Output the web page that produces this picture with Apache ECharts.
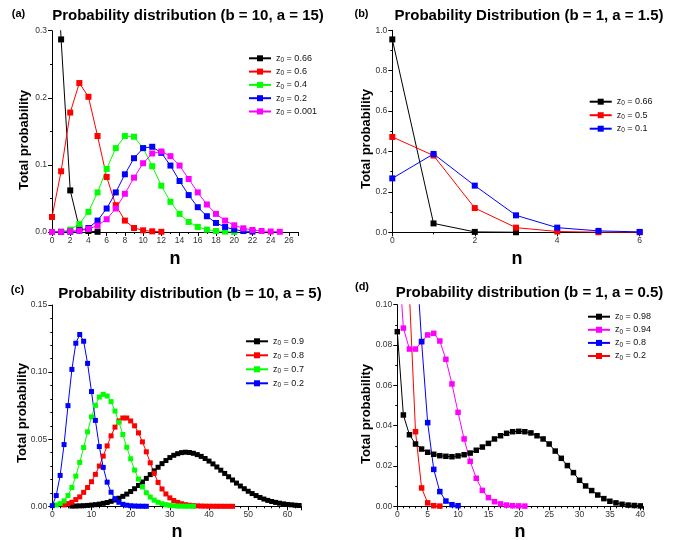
<!DOCTYPE html>
<html>
<head>
<meta charset="utf-8">
<title>Probability distribution</title>
<script src="https://cdn.jsdelivr.net/npm/echarts@6/dist/echarts.min.js"></script>
<style>
  body { margin: 0; background: #fff; }
  #main { width: 684px; height: 540px; }
</style>
</head>
<body>
<div id="main"></div>
<script>
// (a) b = 10, a = 15  -- every series starts at n = 0
var aZ = ['0.66', '0.6', '0.4', '0.2', '0.001'];
var aBlack = [0.55, 0.287, 0.062, 0.006, 0.0015, 0.0003];
var aRed = [0.0224, 0.0905, 0.178, 0.222, 0.2015, 0.143, 0.082, 0.040, 0.017, 0.006, 0.0025, 0.001, 0.0003];
var aGreen = [0, 0.0005, 0.0035, 0.012, 0.030, 0.059, 0.094, 0.125, 0.143, 0.142, 0.125, 0.098, 0.069, 0.045,
  0.027, 0.015, 0.0075, 0.0035, 0.0015, 0.0006, 0.0002];
var aBlue = [0, 0.0001, 0.0005, 0.002, 0.006, 0.017, 0.035, 0.059, 0.086, 0.110, 0.125, 0.127, 0.118, 0.099,
  0.076, 0.055, 0.037, 0.0235, 0.0135, 0.0075, 0.0035, 0.0015, 0.0006];
var aMagenta = [0, 0.0003, 0.0007, 0.002, 0.0045, 0.0095, 0.019, 0.035, 0.057, 0.081, 0.1025, 0.117, 0.12, 0.113,
  0.099, 0.079, 0.059, 0.041, 0.027, 0.017, 0.010, 0.0055, 0.003, 0.0015, 0.0007, 0.0003];

// (b) b = 1, a = 1.5  -- start at n = 0
var bZ = ['0.66', '0.5', '0.1'];
var bBlack = [0.955, 0.044, 0.002, 0.0003];
var bRed = [0.472, 0.38, 0.12, 0.023, 0.004, 0.0005, 0.0001];
var bBlue = [0.267, 0.388, 0.231, 0.084, 0.023, 0.007, 0.002];

// (c) b = 10, a = 5  -- start n given in cStart
var cZ = ['0.9', '0.8', '0.7', '0.2'];
var cStart = [5, 3, 1, 0];
var cBlack = [0.00015, 0.00022, 0.00032, 0.00046, 0.00064, 0.00089, 0.0012, 0.0016, 0.0022, 0.0028, 0.0037,
  0.0047, 0.0060, 0.0074, 0.0091, 0.0110, 0.0131, 0.0155, 0.0181, 0.0208, 0.0236, 0.0264, 0.0291, 0.0318,
  0.0341, 0.0363, 0.0380, 0.0392, 0.0400, 0.0403, 0.0401, 0.0395, 0.0385, 0.0372, 0.0356, 0.0337, 0.0316,
  0.0293, 0.0269, 0.0245, 0.0220, 0.0196, 0.0173, 0.0151, 0.0131, 0.0112, 0.0095, 0.0080, 0.0066, 0.0054,
  0.0044, 0.0036, 0.0029, 0.0023, 0.0018, 0.0014, 0.0011, 0.0008, 0.0006];
var cRed = [0.001, 0.002, 0.003, 0.005, 0.007, 0.0104, 0.014, 0.0183, 0.0238, 0.030, 0.0374, 0.045, 0.0525,
  0.059, 0.0636, 0.0658, 0.0658, 0.0636, 0.060, 0.0547, 0.048, 0.0406, 0.0324, 0.0245, 0.0178, 0.0129, 0.0092,
  0.0063, 0.0043, 0.0029, 0.0019, 0.0012, 0.0008, 0.0005, 0.0003, 0.0002, 0.0001, 0.00007, 0.00004, 0.00002,
  0.00001, 0.00001, 0, 0];
var cGreen = [0.001, 0.002, 0.004, 0.008, 0.014, 0.0225, 0.0327, 0.0438, 0.0555, 0.0666, 0.0752, 0.0814, 0.0834,
  0.0822, 0.078, 0.071, 0.0626, 0.0535, 0.044, 0.0354, 0.027, 0.0203, 0.0144, 0.0101, 0.0069, 0.0046, 0.003,
  0.0019, 0.0012, 0.0007, 0.0004, 0.0002, 0.0001, 0.00006, 0.00003, 0.00001];
var cBlue = [0.0005, 0.008, 0.023, 0.046, 0.075, 0.102, 0.1215, 0.128, 0.123, 0.1065, 0.0855, 0.064, 0.0445,
  0.029, 0.018, 0.0105, 0.0057, 0.003, 0.0015, 0.0008, 0.0004, 0.0002, 0.0001, 0.00005, 0.00002];

// (d) b = 1, a = 0.5  -- start at n = 0
var dZ = ['0.98', '0.94', '0.8', '0.2'];
var dBlack = [0.0866, 0.0453, 0.0355, 0.0309, 0.0284, 0.0268, 0.0258, 0.0251, 0.0248, 0.0246, 0.025, 0.0256,
  0.0264, 0.0278, 0.0294, 0.0312, 0.0334, 0.035, 0.0362, 0.037, 0.0372, 0.037, 0.0364, 0.035, 0.0334, 0.0309,
  0.0274, 0.0238, 0.0202, 0.0167, 0.0129, 0.0101, 0.0078, 0.0056, 0.0038, 0.0025, 0.0017, 0.001, 0.0006,
  0.0004, 0.0002];
var dMagenta = [0.135, 0.0884, 0.078, 0.078, 0.0817, 0.085, 0.0858, 0.082, 0.0729, 0.0607, 0.0466, 0.0334,
  0.0223, 0.0139, 0.0079, 0.0043, 0.0023, 0.0012, 0.0006, 0.0003, 0.0002, 0.0001];
var dBlue = [0.22, 0.2, 0.165, 0.13, 0.0817, 0.0415, 0.0183, 0.0073, 0.0026, 0.0008, 0.0003];
var dRed = [0.5, 0.3, 0.105, 0.037, 0.0091, 0.0017, 0.0003, 0.0001];

var FONT = '"Liberation Sans", Arial, sans-serif';
var BLACK = '#000000', RED = '#ff0000', GREEN = '#00ff00', BLUE = '#0000ff', MAGENTA = '#ff00ff';

function pts(start, vals) {
  return vals.map(function (v, i) { return [start + i, v]; });
}

var myChart = echarts.init(document.getElementById('main'), null, { renderer: 'canvas' });

var grids = [
  { left: 52, top: 30.7, width: 246, height: 201.3 },
  { left: 392.3, top: 30.3, width: 247.4, height: 202 },
  { left: 52.3, top: 305, width: 249.2, height: 201.3 },
  { left: 397.3, top: 304.7, width: 246, height: 201.6 }
];

function xAx(idx, max, interval, minor) {
  return {
    type: 'value', gridIndex: idx, min: 0, max: max, interval: interval,
    axisLine: { lineStyle: { color: '#000', width: 1 } },
    axisTick: { length: 4, lineStyle: { color: '#000' } },
    minorTick: { show: true, splitNumber: minor, length: 2, lineStyle: { color: '#000' } },
    splitLine: { show: false },
    axisLabel: {
      fontSize: 8.5, color: '#333', margin: 4, fontFamily: FONT,
      formatter: function (v) { return Math.abs(v / interval - Math.round(v / interval)) < 1e-6 ? String(Math.round(v)) : ''; }
    }
  };
}
function yAx(idx, max, interval, minor, dec) {
  return {
    type: 'value', gridIndex: idx, min: 0, max: max, interval: interval,
    axisLine: { show: true, lineStyle: { color: '#000', width: 1 } },
    axisTick: { show: true, length: 4, lineStyle: { color: '#000' } },
    minorTick: { show: true, splitNumber: minor, length: 2, lineStyle: { color: '#000' } },
    splitLine: { show: false },
    axisLabel: {
      fontSize: 8.5, color: '#333', margin: 5, fontFamily: FONT,
      formatter: function (v) { return v.toFixed(dec); }
    }
  };
}

function line(name, idx, data, color, size) {
  return {
    name: name, type: 'line', xAxisIndex: idx, yAxisIndex: idx, data: data,
    symbol: 'rect', symbolSize: size, clip: true,
    lineStyle: { color: color, width: 1 },
    itemStyle: { color: color },
    emphasis: { disabled: true }
  };
}

function legendFor(names, labels, left, top, gap) {
  return {
    orient: 'vertical', left: left, top: top, padding: 0, itemGap: gap,
    itemWidth: 22, itemHeight: 7.5, selectedMode: false,
    data: names,
    formatter: function (name) {
      return '{z|z}{s|0}{t| = ' + labels[names.indexOf(name)] + '}';
    },
    textStyle: {
      fontFamily: FONT, color: '#111',
      rich: {
        z: { fontSize: 9, lineHeight: 11, fontFamily: FONT, color: '#111' },
        s: { fontSize: 6.5, lineHeight: 6.5, verticalAlign: 'bottom', fontFamily: FONT, color: '#111' },
        t: { fontSize: 9, lineHeight: 11, fontFamily: FONT, color: '#111' }
      }
    }
  };
}

var aNames = aZ.map(function (z) { return 'a ' + z; });
var bNames = bZ.map(function (z) { return 'b ' + z; });
var cNames = cZ.map(function (z) { return 'c ' + z; });
var dNames = dZ.map(function (z) { return 'd ' + z; });

var series = [
  line(aNames[0], 0, pts(0, aBlack), BLACK, 6),
  line(aNames[1], 0, pts(0, aRed), RED, 6),
  line(aNames[2], 0, pts(0, aGreen), GREEN, 6),
  line(aNames[3], 0, pts(0, aBlue), BLUE, 6),
  line(aNames[4], 0, pts(0, aMagenta), MAGENTA, 6),
  line(bNames[0], 1, pts(0, bBlack), BLACK, 6),
  line(bNames[1], 1, pts(0, bRed), RED, 6),
  line(bNames[2], 1, pts(0, bBlue), BLUE, 6),
  line(cNames[0], 2, pts(cStart[0], cBlack), BLACK, 5),
  line(cNames[1], 2, pts(cStart[1], cRed), RED, 5),
  line(cNames[2], 2, pts(cStart[2], cGreen), GREEN, 5),
  line(cNames[3], 2, pts(cStart[3], cBlue), BLUE, 5),
  line(dNames[0], 3, pts(0, dBlack), BLACK, 5.5),
  line(dNames[1], 3, pts(0, dMagenta), MAGENTA, 5.5),
  line(dNames[2], 3, pts(0, dBlue), BLUE, 5.5),
  line(dNames[3], 3, pts(0, dRed), RED, 5.5)
];

function txt(x, y, s, size, rot) {
  return {
    type: 'text', x: x, y: y, rotation: rot || 0, silent: true,
    style: {
      text: s, fill: '#000', font: 'bold ' + size + 'px ' + FONT,
      align: 'center', verticalAlign: 'middle', textAlign: 'center', textVerticalAlign: 'middle'
    }
  };
}

var option = {
  backgroundColor: '#ffffff',
  animation: false,
  grid: grids,
  xAxis: [xAx(0, 27, 2, 2), xAx(1, 6, 2, 2), xAx(2, 63.6, 10, 5), xAx(3, 40.5, 5, 5)],
  yAxis: [yAx(0, 0.3, 0.1, 2, 1), yAx(1, 1.0, 0.2, 2, 1), yAx(2, 0.15, 0.05, 5, 2), yAx(3, 0.10, 0.02, 2, 2)],
  legend: [
    legendFor(aNames, aZ, 248, 53.8, 3.3),
    legendFor(bNames, bZ, 588.7, 97.2, 3.5),
    legendFor(cNames, cZ, 245, 336.8, 4),
    legendFor(dNames, dZ, 587, 312.2, 3.1)
  ],
  graphic: [
    txt(18.5, 14, '(a)', 11),
    txt(188, 15.5, 'Probability distribution (b = 10, a = 15)', 15),
    txt(361.5, 14, '(b)', 11),
    txt(529, 15.5, 'Probability Distribution (b = 1, a = 1.5)', 15),
    txt(17.5, 290, '(c)', 11),
    txt(190, 294, 'Probability distribution (b = 10, a = 5)', 15),
    txt(362, 287, '(d)', 11),
    txt(529.5, 293, 'Probability distribution (b = 1, a = 0.5)', 15),
    txt(24.5, 140, 'Total probability', 13, Math.PI / 2),
    txt(366.5, 139, 'Total probability', 13, Math.PI / 2),
    txt(22, 413, 'Total probability', 13, Math.PI / 2),
    txt(366, 414, 'Total probability', 13, Math.PI / 2),
    txt(175, 259, 'n', 18),
    txt(517, 259, 'n', 18),
    txt(177, 532, 'n', 18),
    txt(520, 532, 'n', 18)
  ],
  series: series
};
myChart.setOption(option);
</script>
</body>
</html>
